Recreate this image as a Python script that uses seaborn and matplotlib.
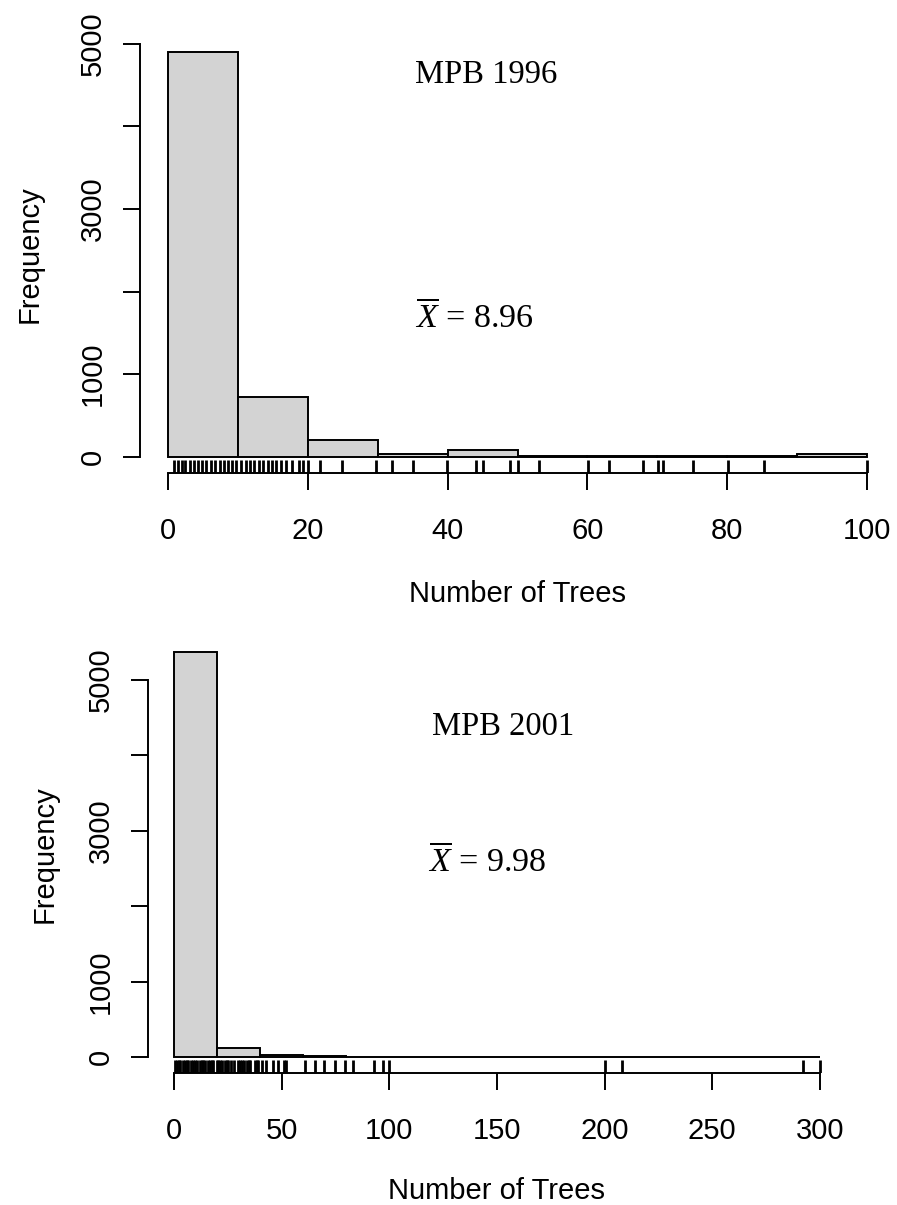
import matplotlib
matplotlib.use("Agg")
import matplotlib.pyplot as plt
import seaborn as sns

# ---- MPB 1996: tree counts per plot, 10-tree bins ----
edges_1996 = [0, 10, 20, 30, 40, 50, 60, 70, 80, 90, 100]
counts_1996 = [4905, 718, 206, 36, 76, 8, 10, 8, 5, 38]
rug_1996 = [0.9, 1.5, 2.0, 2.5, 3.1, 3.7, 4.3, 4.9, 5.5, 6.1, 6.7, 7.4, 8.0,
            8.6, 9.2, 9.8, 10.4, 11.1, 11.7, 12.3, 13.0, 13.6, 14.3, 14.9,
            15.5, 16.1, 16.9, 17.8, 18.7, 19.3, 20.0, 21.7, 24.9, 29.8, 32.0,
            35.0, 39.9, 44.0, 45.0, 48.9, 50.1, 53.1, 60.1, 63.1, 68.0, 70.1,
            70.8, 75.1, 80.1, 85.2, 100.0]
mean_1996 = 8.96
xticks_1996 = [0, 20, 40, 60, 80, 100]

# ---- MPB 2001: tree counts per plot, 20-tree bins ----
edges_2001 = [0, 20, 40, 60, 80, 100, 120, 140, 160, 180, 200, 220, 240,
              260, 280, 300]
counts_2001 = [5370, 112, 25, 5, 4, 0, 0, 0, 0, 1, 1, 0, 0, 0, 2]
rug_2001 = [0.5, 1.3, 2.1, 2.9, 4.2, 5.0, 5.8, 6.6, 8.1, 8.9, 9.7, 10.5,
            12.0, 12.8, 13.6, 14.4, 15.9, 16.7, 17.5, 18.3, 19.8, 20.6, 21.4,
            22.2, 23.7, 24.5, 25.3, 26.5, 27.7, 29.9, 30.7, 31.5, 32.3, 33.8,
            34.6, 35.4, 37.6, 38.4, 39.1, 40.7, 42.7, 45.8, 48.5, 51.1, 52.0,
            60.8, 65.5, 69.8, 74.8, 79.4, 83.0, 92.9, 97.2, 100.0, 200.0,
            208.0, 292.3, 300.0]
mean_2001 = 9.98
xticks_2001 = [0, 50, 100, 150, 200, 250, 300]

yticks = [0, 1000, 2000, 3000, 4000, 5000]
ytick_labels = ["0", "1000", "", "3000", "", "5000"]

sns.set_style("ticks")
plt.rcParams["font.family"] = ["Liberation Sans", "DejaVu Sans"]
plt.rcParams["text.color"] = "black"
plt.rcParams["axes.labelcolor"] = "black"
plt.rcParams["axes.edgecolor"] = "black"
plt.rcParams["mathtext.fontset"] = "custom"
plt.rcParams["mathtext.rm"] = "Liberation Serif"
plt.rcParams["mathtext.it"] = "Liberation Serif:italic"

LW = 1.4
FS = 21
TITLE_FS = 23.5
MEAN_FS = 24.5

fig = plt.figure(figsize=(8.97, 12.05), dpi=100)
ax_top = fig.add_axes([0.1561, 0.6075, 0.8417, 0.3631])
ax_bot = fig.add_axes([0.1652, 0.1095, 0.7777, 0.3627])


def draw_panel(ax, edges, counts, rug, xticks, title, mean, title_xy, mean_xy,
               xlabel_y):
    mids = [(a + b) / 2 for a, b in zip(edges[:-1], edges[1:])]
    sns.histplot(x=mids, weights=counts, bins=edges, stat="count",
                 color="#d3d3d3", edgecolor="black", linewidth=LW, alpha=1,
                 ax=ax)
    sns.rugplot(x=rug, height=0.03, color="black", linewidth=2.0, ax=ax)

    span = edges[-1] - edges[0]
    ymax = max(counts)
    ax.set_xlim(edges[0] - 0.04 * span, edges[-1] + 0.04 * span)
    ax.set_ylim(-0.04 * ymax, 1.04 * ymax)

    for side in ("top", "right"):
        ax.spines[side].set_visible(False)
    ax.spines["left"].set_bounds(yticks[0], yticks[-1])
    ax.spines["bottom"].set_bounds(xticks[0], xticks[-1])
    ax.spines["left"].set_linewidth(LW)
    ax.spines["bottom"].set_linewidth(LW)

    ax.set_xticks(xticks)
    ax.set_xticklabels([str(t) for t in xticks])
    ax.set_yticks(yticks)
    ax.set_yticklabels(ytick_labels)
    ax.tick_params(axis="both", length=12, width=LW, labelsize=FS,
                   color="black", labelcolor="black")
    ax.tick_params(axis="x", pad=20)
    ax.tick_params(axis="y", pad=12, labelrotation=90)
    for lab in ax.get_yticklabels():
        lab.set_va("center")

    ax.set_xlabel("Number of Trees", fontsize=FS)
    ax.set_ylabel("Frequency", fontsize=FS)
    ax.xaxis.set_label_coords(0.5, xlabel_y)
    ax.yaxis.set_label_coords(-0.128, 0.5)

    ax.text(title_xy[0], title_xy[1], title, fontsize=TITLE_FS,
            family="Liberation Serif", ha="left", va="center")
    ax.text(mean_xy[0], mean_xy[1], r"$\overline{X}$" + f" = {mean:.2f}",
            fontsize=MEAN_FS, family="Liberation Serif", ha="left",
            va="center")


draw_panel(ax_top, edges_1996, counts_1996, rug_1996, xticks_1996,
           "MPB 1996", mean_1996, (35.3, 4625), (35.3, 1683), -0.245)
draw_panel(ax_bot, edges_2001, counts_2001, rug_2001, xticks_2001,
           "MPB 2001", mean_2001, (119.8, 4377), (118.0, 2586), -0.238)

fig.savefig("out.png", dpi=100)
